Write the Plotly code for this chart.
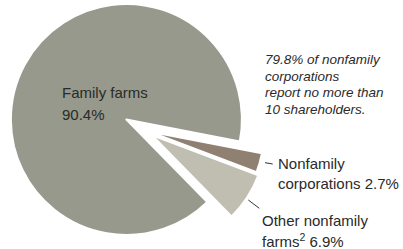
import plotly.graph_objects as go

# Data
labels = ["Nonfamily corporations", "Other nonfamily farms", "Family farms"]
values = [2.7, 6.9, 90.4]
colors = ["#8F8071", "#C0BEB0", "#96998B"]

W, H = 403, 249

def dom(cx, cy, r):
    return dict(x=[(cx - r) / W, (cx + r) / W],
                y=[(H - cy - r) / H, (H - cy + r) / H])

def pie_trace(show_idx, d):
    cols = [c if i == show_idx else "rgba(0,0,0,0)" for i, c in enumerate(colors)]
    widths = [2 if i == show_idx else 0 for i in range(len(colors))]
    return go.Pie(labels=labels, values=values, sort=False, direction="clockwise",
                  rotation=101, textinfo="none", hoverinfo="skip", showlegend=False,
                  marker=dict(colors=cols, line=dict(color="white", width=widths)),
                  domain=d)

fig = go.Figure()
fig.add_trace(pie_trace(2, dom(126.4, 119.5, 115.5)))
fig.add_trace(pie_trace(0, dom(149.0, 131.4, 115.0)))
fig.add_trace(pie_trace(1, dom(151.7, 135.0, 114.0)))

txt = "#2a2a2a"
FONT = "Liberation Sans, Arial, sans-serif"
ann = []
def add(text, x, base, size, italic=False):
    ann.append(dict(text=text, x=(x - 2) / W, y=1 - (base - 0.35 * size) / H,
                    xref="paper", yref="paper", xanchor="left", yanchor="middle",
                    showarrow=False,
                    font=dict(family=FONT, size=size, color=txt,
                              style="italic" if italic else "normal")))

add("Family farms", 61.7, 97.3, 15)
add("90.4%", 61.7, 119.3, 15)
add("Nonfamily", 278.3, 168.3, 15)
add("corporations 2.7%", 278.3, 189, 15)
add("Other nonfamily", 261.7, 226, 15)
add("farms<sup>2</sup> 6.9%", 261.7, 246, 15)
note = ["79.8% of nonfamily", "corporations", "report no more than", "10 shareholders."]
for i, line in enumerate(note):
    add(line, 265.3, 64.5 + i * 16.5, 13.5, italic=True)

shapes = [
    dict(type="line", xref="paper", yref="paper", x0=265 / W, y0=1 - 162.7 / H,
         x1=272.7 / W, y1=1 - 164 / H, line=dict(color="#333", width=1)),
    dict(type="line", xref="paper", yref="paper", x0=248.3 / W, y0=1 - 200 / H,
         x1=259.3 / W, y1=1 - 208.3 / H, line=dict(color="#333", width=1)),
]

fig.update_layout(width=W, height=H, margin=dict(l=0, r=0, t=0, b=0),
                  paper_bgcolor="white", plot_bgcolor="white",
                  annotations=ann, shapes=shapes, showlegend=False)
fig.write_html("out.html", config={"displayModeBar": False},
               post_script="document.body.style.margin='0';document.body.style.overflow='hidden';")
